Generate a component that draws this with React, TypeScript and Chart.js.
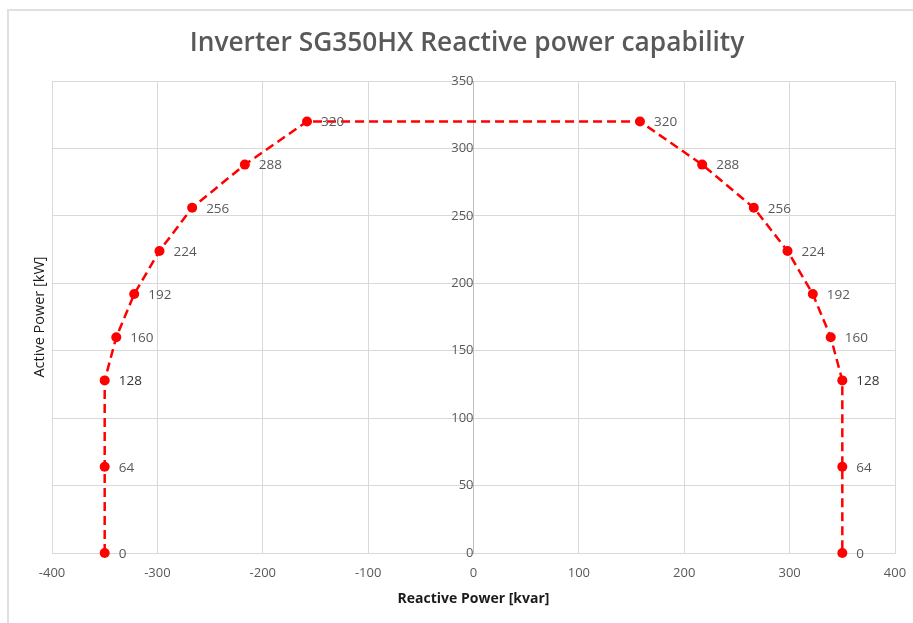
import React, { useEffect, useRef } from "react";
import { Chart, registerables } from "chart.js";

Chart.register(...registerables);

const TITLE = "Inverter SG350HX Reactive power capability";
const X_TITLE = "Reactive Power [kvar]";
const Y_TITLE = "Active Power [kW]";

// Reactive power (kvar) and active power (kW) along the capability curve
const reactivePower = [-350, -350, -350, -339, -322, -298, -267, -217, -158, 158, 217, 266, 298, 322, 339, 350, 350, 350];
const activePower = [0, 64, 128, 160, 192, 224, 256, 288, 320, 320, 288, 256, 224, 192, 160, 128, 64, 0];

const X_MIN = -400;
const X_MAX = 400;
const X_STEP = 100;
const Y_MIN = 0;
const Y_MAX = 350;
const Y_STEP = 50;

const FONT = "'Open Sans', 'Liberation Sans', sans-serif";

const labelPlugin = {
  id: "customText",
  afterDatasetsDraw(chart: any) {
    const ctx = chart.ctx;
    const meta = chart.getDatasetMeta(0);
    ctx.save();
    ctx.textAlign = "left";
    ctx.textBaseline = "middle";
    meta.data.forEach((pt: any, i: number) => {
      const v = activePower[i];
      ctx.font = v === 128 ? `500 13.5px ${FONT}` : `13.5px ${FONT}`;
      ctx.fillStyle = v === 128 ? "#333333" : "#595959";
      ctx.fillText(String(v), pt.x + 14, pt.y + 1);
    });
    ctx.restore();
  },
  afterDraw(chart: any) {
    const ctx = chart.ctx;
    const area = chart.chartArea;
    ctx.save();
    // Chart title
    ctx.textAlign = "center";
    ctx.textBaseline = "alphabetic";
    ctx.fillStyle = "#595959";
    ctx.font = `600 24px ${FONT}`;
    const w = ctx.measureText(TITLE).width;
    const size = (24 * 555) / w;
    ctx.font = `600 ${size}px ${FONT}`;
    ctx.fillText(TITLE, 467, 51);
    // X axis title
    ctx.textBaseline = "middle";
    ctx.fillStyle = "#1a1a1a";
    ctx.font = `bold 14px ${FONT}`;
    ctx.fillText(X_TITLE, chart.scales.x.getPixelForValue(0), 599);
    // Y axis title
    ctx.translate(40, (area.top + area.bottom) / 2);
    ctx.rotate(-Math.PI / 2);
    ctx.fillStyle = "#1a1a1a";
    ctx.font = `14.5px ${FONT}`;
    ctx.fillText(Y_TITLE, 0, 0);
    ctx.restore();
  },
};

export default function App() {
  const ref = useRef<HTMLCanvasElement>(null);

  useEffect(() => {
    if (!ref.current) return;
    const chart = new Chart(ref.current, {
      type: "scatter",
      data: {
        datasets: [
          {
            data: reactivePower.map((x, i) => ({ x, y: activePower[i] })),
            showLine: true,
            borderColor: "#ff0000",
            borderWidth: 2.5,
            borderDash: [9, 5],
            pointRadius: 5,
            pointBackgroundColor: "#ff0000",
            pointBorderColor: "#ff0000",
            pointBorderWidth: 0,
            fill: false,
            clip: false,
          } as any,
        ],
      },
      options: {
        animation: false,
        responsive: false,
        maintainAspectRatio: false,
        devicePixelRatio: 1,
        layout: { padding: { top: 81, left: 52, right: 18, bottom: 0 } },
        plugins: {
          legend: { display: false },
          title: { display: false },
          tooltip: { enabled: false },
        },
        scales: {
          x: {
            type: "linear",
            position: "bottom",
            min: X_MIN,
            max: X_MAX,
            ticks: {
              stepSize: X_STEP,
              color: "#595959",
              font: { family: FONT, size: 13 },
              padding: 12,
              maxRotation: 0,
            },
            grid: { color: "#d9d9d9", lineWidth: 1, drawTicks: false },
            border: { display: true, color: "#d9d9d9", width: 1 },
            afterFit(scale: any) {
              scale.height = 70;
              scale.paddingLeft = 0;
              scale.paddingRight = 0;
            },
          },
          y: {
            type: "linear",
            position: { x: 0 } as any,
            min: Y_MIN,
            max: Y_MAX,
            ticks: {
              stepSize: Y_STEP,
              color: "#595959",
              font: { family: FONT, size: 13 },
              padding: 13,
            },
            grid: { color: "#d9d9d9", lineWidth: 1, drawTicks: false },
            border: { display: true, color: "#bfbfbf", width: 1 },
            afterFit(scale: any) {
              scale.width = 0;
              scale.paddingTop = 0;
              scale.paddingBottom = 0;
            },
          },
        },
      },
      plugins: [labelPlugin],
    });
    return () => chart.destroy();
  }, []);

  return (
    <div style={{ position: "absolute", left: 0, top: 0, width: 913, height: 623, background: "#fff", overflow: "hidden" }}>
      <div
        style={{
          position: "absolute",
          left: 7,
          top: 9,
          right: 0,
          bottom: 0,
          borderLeft: "2px solid #e0e0e0",
          borderTop: "2px solid #e0e0e0",
        }}
      />
      <canvas ref={ref} width={913} height={623} style={{ position: "absolute", left: 0, top: 0, width: 913, height: 623 }} />
    </div>
  );
}
